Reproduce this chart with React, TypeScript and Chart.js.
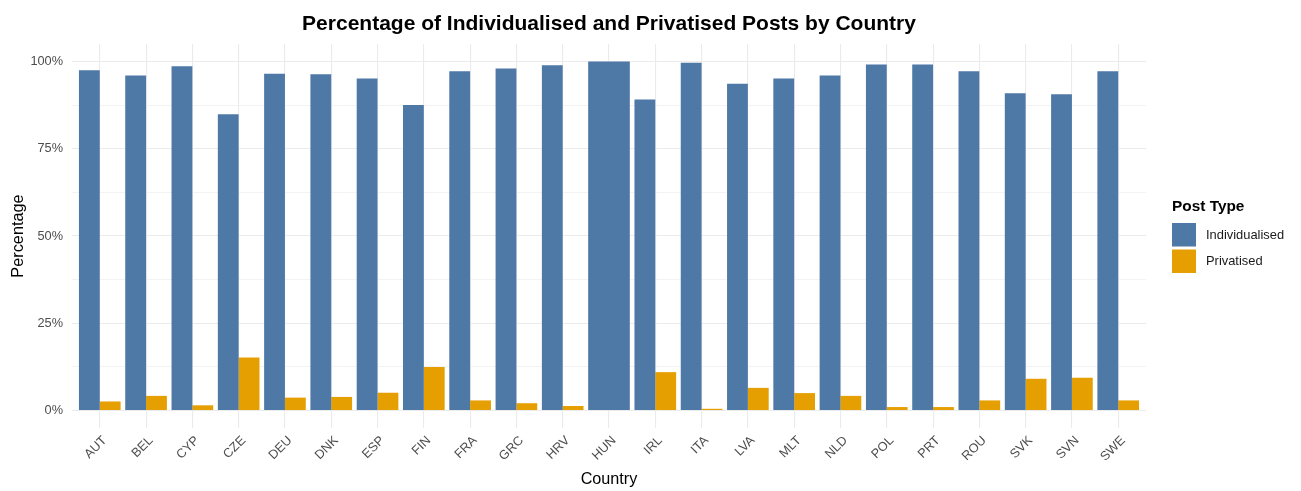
import React, { useEffect, useRef } from 'react';
import { Chart, registerables } from 'chart.js';

Chart.register(...registerables);

const countries = ['AUT', 'BEL', 'CYP', 'CZE', 'DEU', 'DNK', 'ESP', 'FIN', 'FRA', 'GRC', 'HRV', 'HUN', 'IRL', 'ITA', 'LVA', 'MLT', 'NLD', 'POL', 'PRT', 'ROU', 'SVK', 'SVN', 'SWE'];
const individualised = [97.5, 96.0, 98.6, 84.9, 96.5, 96.3, 95.1, 87.5, 97.2, 98.0, 98.9, 100, 89.1, 99.6, 93.6, 95.1, 96.0, 99.1, 99.1, 97.2, 90.9, 90.6, 97.2];
const privatised: (number | null)[] = [2.6, 4.2, 1.5, 15.2, 3.7, 3.9, 5.1, 12.5, 2.9, 2.1, 1.3, null, 11.0, 0.5, 6.5, 5.0, 4.2, 1.0, 1.0, 2.9, 9.1, 9.4, 2.9];
const yTickValues = [0, 12.5, 25, 37.5, 50, 62.5, 75, 87.5, 100];
const seriesNames = ['Individualised', 'Privatised'];
const seriesColors = ['#4E79A7', '#E69F00'];

const FONT = '"Liberation Sans", Arial, Helvetica, sans-serif';

const legendPlugin = {
  id: 'ggLegend',
  afterDraw(chart: any) {
    const { ctx, chartArea } = chart;
    const x0 = chartArea.right + 26;
    const cy = (chartArea.top + chartArea.bottom) / 2;
    ctx.save();
    ctx.textBaseline = 'middle';
    ctx.textAlign = 'left';
    ctx.fillStyle = '#000000';
    ctx.font = `bold 15.4px ${FONT}`;
    ctx.fillText('Post Type', x0, cy - 29);
    const boxW = 24;
    const boxH = 23.5;
    seriesNames.forEach((name, i) => {
      const top = cy - 13 + i * 26.5;
      ctx.fillStyle = seriesColors[i];
      ctx.fillRect(x0, top, boxW, boxH);
      ctx.fillStyle = '#1a1a1a';
      ctx.font = `12.9px ${FONT}`;
      ctx.fillText(name, x0 + 34, top + boxH / 2 + 0.5);
    });
    ctx.restore();
  },
};

export default function App() {
  const canvasRef = useRef<HTMLCanvasElement | null>(null);

  useEffect(() => {
    document.body.style.margin = '0';
    const canvas = canvasRef.current;
    if (!canvas) return;
    const chart = new Chart(canvas, {
      type: 'bar',
      data: {
        datasets: [
          {
            label: seriesNames[0],
            data: countries.map((_, i) => ({ x: i, y: individualised[i] })),
            backgroundColor: seriesColors[0],
            borderWidth: 0,
            skipNull: true,
            categoryPercentage: 0.9,
            barPercentage: 1.0,
          } as any,
          {
            label: seriesNames[1],
            data: countries.map((_, i) => ({ x: i, y: privatised[i] })),
            backgroundColor: seriesColors[1],
            borderWidth: 0,
            skipNull: true,
            categoryPercentage: 0.9,
            barPercentage: 1.0,
          } as any,
        ],
      },
      options: {
        animation: false,
        responsive: true,
        maintainAspectRatio: false,
        layout: { padding: { left: 0, right: 155, top: 0, bottom: 0 } },
        plugins: {
          legend: { display: false },
          tooltip: { enabled: false },
          title: {
            display: true,
            text: 'Percentage of Individualised and Privatised Posts by Country',
            fullSize: false,
            color: '#000000',
            font: { family: FONT, size: 21, weight: 'bold' },
            padding: { top: 11.6, bottom: 7.2 },
          },
        },
        scales: {
          x: {
            type: 'linear',
            min: -0.6,
            max: countries.length - 1 + 0.6,
            offset: false,
            afterBuildTicks: (scale: any) => {
              scale.ticks = countries.map((_, i) => ({ value: i }));
            },
            afterFit: (scale: any) => {
              scale.height = 63;
            },
            grid: { offset: false, color: '#ebebeb', lineWidth: 1.1, drawTicks: false },
            border: { display: false },
            ticks: {
              autoSkip: false,
              maxRotation: 45,
              minRotation: 45,
              padding: 5,
              labelOffset: 5,
              color: '#4d4d4d',
              font: { family: FONT, size: 12.75 },
              callback: (v: any) => countries[v] ?? '',
            },
            title: {
              display: true,
              text: 'Country',
              color: '#000000',
              font: { family: FONT, size: 16.2 },
              padding: { top: 0, bottom: 1.5 },
            },
          },
          y: {
            type: 'linear',
            min: -5,
            max: 105,
            afterBuildTicks: (scale: any) => {
              scale.ticks = yTickValues.map((v) => ({ value: v }));
            },
            afterFit: (scale: any) => {
              scale.width = 72;
            },
            grid: {
              color: '#ebebeb',
              lineWidth: (c: any) => (c.tick && c.tick.value % 25 === 0 ? 1.1 : 0.6),
              drawTicks: false,
            },
            border: { display: false },
            ticks: {
              padding: 9,
              color: '#4d4d4d',
              font: { family: FONT, size: 12.75 },
              callback: (v: any) => (Number(v) % 25 === 0 ? `${v}%` : ''),
            },
            title: {
              display: true,
              text: 'Percentage',
              color: '#000000',
              font: { family: FONT, size: 16.3 },
              padding: { top: 8.5, bottom: 0 },
            },
          },
        },
      },
      plugins: [legendPlugin],
    } as any);
    return () => chart.destroy();
  }, []);

  return (
    <div style={{ position: 'relative', width: '1301px', height: '491px', background: '#ffffff' }}>
      <canvas ref={canvasRef} />
    </div>
  );
}
